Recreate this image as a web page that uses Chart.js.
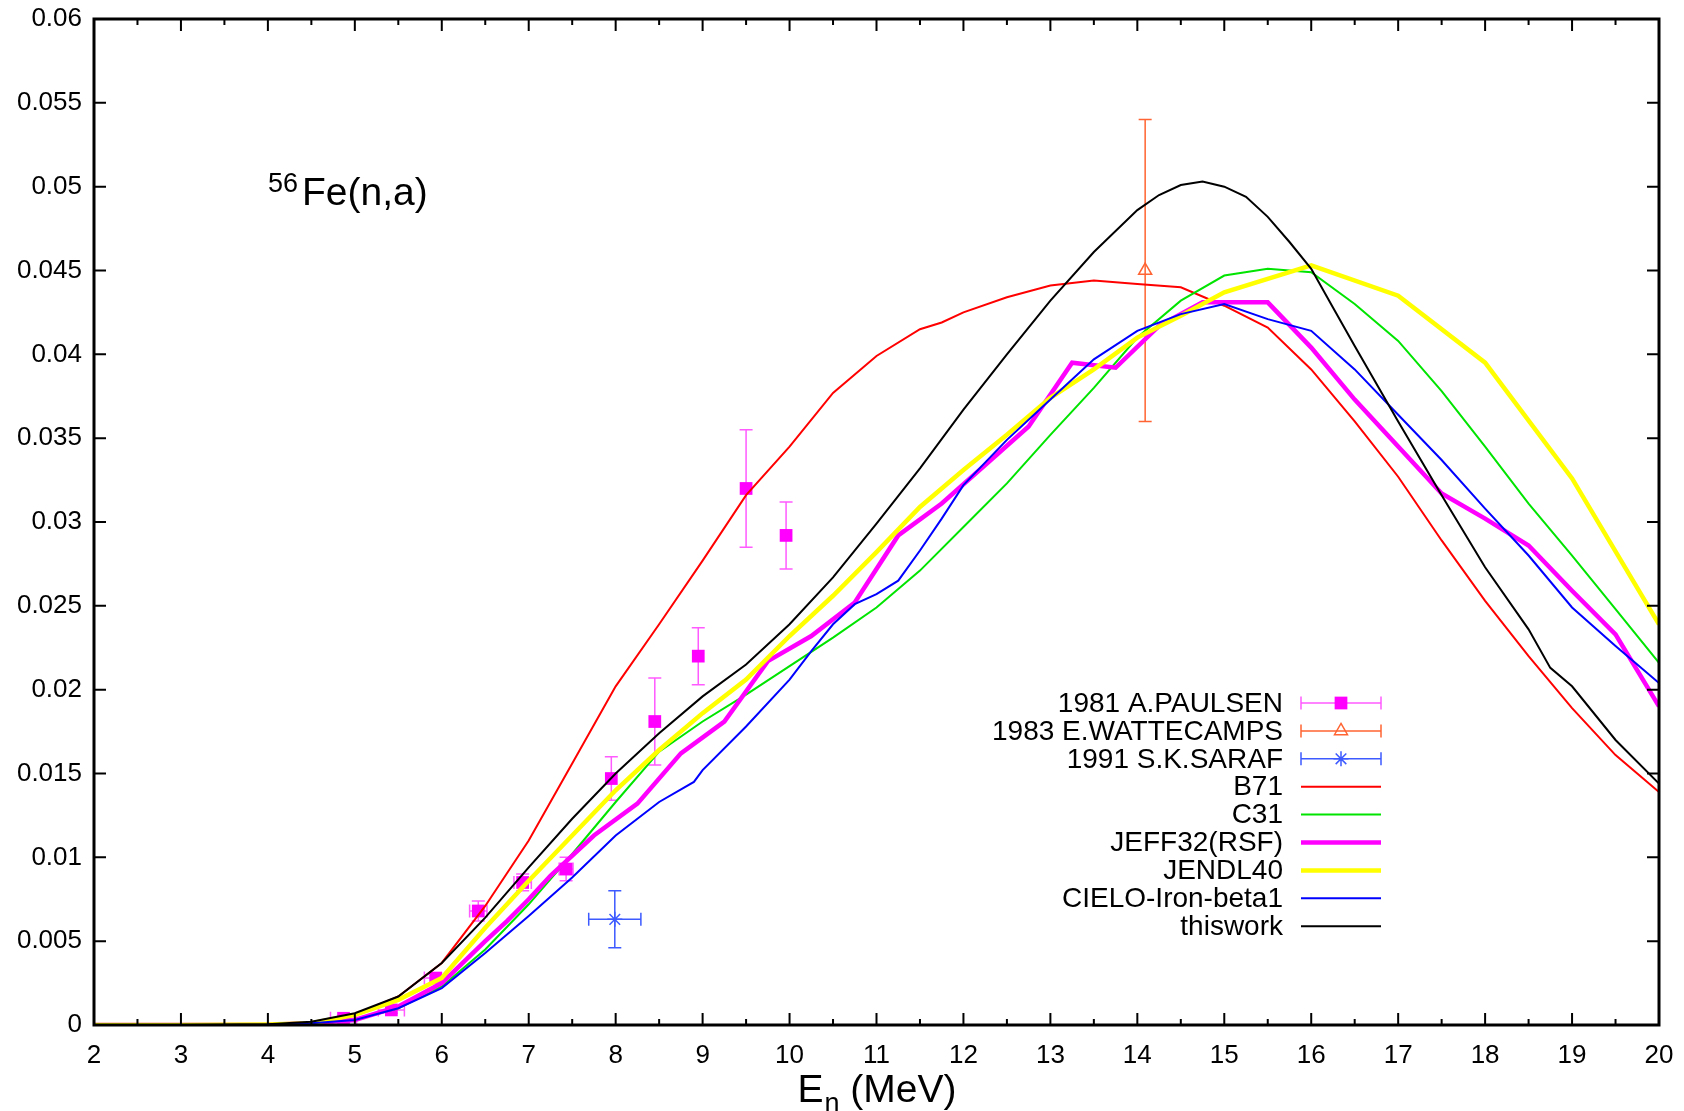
<!DOCTYPE html>
<html>
<head>
<meta charset="utf-8">
<title>56Fe(n,a)</title>
<script src="https://cdn.jsdelivr.net/npm/chart.js@4.4.0/dist/chart.umd.min.js"></script>
<style>
    html, body { margin: 0; padding: 0; background: #fff; }
    #wrap { width: 1684px; height: 1111px; }
</style>
</head>
<body>
<div id="wrap"><canvas id="xsChart" width="1684" height="1111"></canvas></div>
<script>
// Axis tick labels
const xTickLabels = ['2','3','4','5','6','7','8','9','10','11','12','13','14','15','16','17','18','19','20'];
const yTickLabels = ['0','0.005','0.01','0.015','0.02','0.025','0.03','0.035','0.04','0.045','0.05','0.055','0.06'];

// Measured points: energy (MeV), cross section (b), errors
const paulsenE  = [4.87, 5.42, 5.93, 6.42, 6.93, 7.43, 7.95, 8.45, 8.95, 9.5, 9.96];
const paulsenXS = [0.0004, 0.0009, 0.0028, 0.0068, 0.0085, 0.0093, 0.0147, 0.0181, 0.0220, 0.0320, 0.0292];
const paulsenDY = [0.0001, 0.0002, 0.0003, 0.0006, 0.0005, 0.0007, 0.0013, 0.0026, 0.0017, 0.0035, 0.0020];
const paulsenDX = [0.15, 0.15, 0.13, 0.1, 0.1, 0.08, 0, 0, 0, 0, 0];

const wattecampsE  = [14.09];
const wattecampsXS = [0.045];
const wattecampsDY = [0.009];
const wattecampsDX = [0];

const sarafE  = [7.99];
const sarafXS = [0.0063];
const sarafDY = [0.0017];
const sarafDX = [0.3];

// Evaluated / calculated curves
const b71E  = [2, 3, 4, 4.5, 5, 5.5, 6, 6.5, 7, 7.5, 8, 8.5, 9, 9.5, 10, 10.5, 11, 11.5, 11.75, 12, 12.5, 13, 13.5, 14, 14.5, 15, 15.5, 16, 16.5, 17, 17.5, 18, 18.5, 19, 19.5, 20];
const b71XS = [0, 0, 0.00002, 0.0001, 0.0006, 0.0017, 0.0037, 0.0071, 0.0110, 0.0156, 0.0202, 0.0239, 0.0277, 0.0316, 0.0345, 0.0377, 0.0399, 0.0415, 0.0419, 0.0425, 0.0434, 0.0441, 0.0444, 0.0442, 0.0440, 0.0429, 0.0416, 0.0391, 0.0360, 0.0327, 0.0289, 0.0253, 0.0220, 0.0189, 0.0161, 0.0139];

const c31E  = [2, 3, 4, 4.5, 5, 5.5, 6, 6.5, 7, 7.5, 8, 8.5, 9, 9.5, 10, 10.5, 11, 11.5, 12, 12.5, 13, 13.5, 14, 14.5, 15, 15.5, 16, 16.5, 17, 17.5, 18, 18.5, 19, 19.5, 20];
const c31XS = [0, 0, 0.00002, 0.0001, 0.0003, 0.0010, 0.0023, 0.0045, 0.0072, 0.0102, 0.0133, 0.0163, 0.0181, 0.0197, 0.0214, 0.0231, 0.0249, 0.0271, 0.0297, 0.0323, 0.0352, 0.0380, 0.0410, 0.0432, 0.0447, 0.0451, 0.0449, 0.0430, 0.0408, 0.0378, 0.0345, 0.0311, 0.0280, 0.0248, 0.0216];

const jeffE  = [2, 3, 4, 4.5, 5, 5.5, 6, 6.5, 6.75, 7, 7.25, 7.75, 8.25, 8.75, 9.25, 9.75, 10.25, 10.75, 11.25, 11.75, 12.25, 12.75, 13.25, 13.75, 14.25, 14.75, 15.5, 16, 16.5, 17, 17.5, 18, 18.5, 19, 19.5, 20];
const jeffXS = [0, 0, 0.00002, 0.0001, 0.0003, 0.0011, 0.0025, 0.0050, 0.0062, 0.0075, 0.0089, 0.0113, 0.0132, 0.0162, 0.0181, 0.0217, 0.0232, 0.0252, 0.0292, 0.0311, 0.0334, 0.0357, 0.0395, 0.0392, 0.0417, 0.0431, 0.0431, 0.0404, 0.0373, 0.0345, 0.0317, 0.0302, 0.0286, 0.0259, 0.0233, 0.0190];

const jendlE  = [2, 3, 4, 4.5, 5, 5.5, 6, 6.5, 7, 7.5, 8, 8.5, 9, 9.5, 10, 10.5, 11, 11.5, 12, 12.5, 13, 13.5, 14, 14.5, 15, 16, 17, 18, 19, 20];
const jendlXS = [0, 0, 0.00003, 0.0001, 0.0006, 0.0015, 0.0028, 0.0058, 0.0086, 0.0113, 0.0140, 0.0164, 0.0186, 0.0206, 0.0232, 0.0256, 0.0282, 0.0309, 0.0331, 0.0352, 0.0374, 0.0391, 0.0410, 0.0423, 0.0437, 0.0453, 0.0435, 0.0395, 0.0326, 0.0239];

const cieloE  = [2, 3, 4, 4.5, 5, 5.5, 6, 6.5, 7, 7.5, 8, 8.5, 8.9, 9, 9.5, 10, 10.25, 10.5, 10.75, 11, 11.25, 11.5, 11.75, 12, 12.5, 13, 13.5, 14, 14.5, 15, 15.5, 16, 16.5, 17, 17.5, 18, 18.5, 19, 19.5, 20];
const cieloXS = [0, 0, 0.00002, 0.0001, 0.0003, 0.0010, 0.0022, 0.0043, 0.0065, 0.0088, 0.0113, 0.0133, 0.0145, 0.0152, 0.0178, 0.0206, 0.0223, 0.0239, 0.0251, 0.0257, 0.0265, 0.0283, 0.0302, 0.0322, 0.0349, 0.0373, 0.0397, 0.0414, 0.0424, 0.0430, 0.0421, 0.0414, 0.0391, 0.0364, 0.0337, 0.0308, 0.0280, 0.0249, 0.0226, 0.0204];

const thisE  = [2, 3, 4, 4.5, 5, 5.5, 6, 6.5, 7, 7.5, 8, 8.5, 9, 9.5, 10, 10.5, 11, 11.5, 12, 12.5, 13, 13.5, 14, 14.25, 14.5, 14.75, 15, 15.25, 15.5, 15.75, 16, 16.25, 16.5, 17, 17.5, 18, 18.5, 18.75, 19, 19.5, 20];
const thisXS = [0, 0, 0.00005, 0.0002, 0.0007, 0.0017, 0.0037, 0.0064, 0.0094, 0.0123, 0.0150, 0.0174, 0.0196, 0.0215, 0.0239, 0.0267, 0.0299, 0.0332, 0.0367, 0.0400, 0.0432, 0.0461, 0.0486, 0.0495, 0.0501, 0.0503, 0.0500, 0.0494, 0.0482, 0.0467, 0.0451, 0.0428, 0.0405, 0.0360, 0.0316, 0.0273, 0.0236, 0.0213, 0.0202, 0.0170, 0.0144];

const FONT = '"Liberation Sans", Arial, Helvetica, sans-serif';

function toXY(xs, ys) {
    return xs.map((x, i) => ({ x: x, y: ys[i] }));
}

function curve(label, xs, ys, color, width, order) {
    return {
        label: label,
        data: toXY(xs, ys),
        showLine: true,
        borderColor: color,
        backgroundColor: color,
        borderWidth: width,
        pointRadius: 0,
        order: order
    };
}

const datasets = [
    {
        label: '1981 A.PAULSEN',
        data: toXY(paulsenE, paulsenXS),
        errY: paulsenDY, errX: paulsenDX, errColor: 'rgb(255,90,255)',
        pointStyle: 'rect', pointRadius: 9, borderWidth: 0,
        backgroundColor: '#ff00ff', borderColor: '#ff00ff',
        order: 10
    },
    {
        label: '1983 E.WATTECAMPS',
        data: toXY(wattecampsE, wattecampsXS),
        errY: wattecampsDY, errX: wattecampsDX, errColor: 'rgb(255,100,50)',
        pointStyle: 'triangle', pointRadius: 7.5, borderWidth: 1.5,
        backgroundColor: 'rgba(0,0,0,0)', borderColor: 'rgb(255,100,50)',
        order: 9
    },
    {
        label: '1991 S.K.SARAF',
        data: toXY(sarafE, sarafXS),
        errY: sarafDY, errX: sarafDX, errColor: 'rgb(60,90,255)',
        pointStyle: 'star', pointRadius: 7.5, borderWidth: 1.5,
        backgroundColor: 'rgb(60,90,255)', borderColor: 'rgb(60,90,255)',
        order: 8
    },
    curve('B71', b71E, b71XS, '#ff0000', 2, 6),
    curve('C31', c31E, c31XS, '#00e400', 2, 5),
    curve('JEFF32(RSF)', jeffE, jeffXS, '#ff00ff', 4.5, 4),
    curve('JENDL40', jendlE, jendlXS, '#ffff00', 4.5, 3),
    curve('CIELO-Iron-beta1', cieloE, cieloXS, '#0000ff', 2, 2),
    curve('thiswork', thisE, thisXS, '#000000', 2, 1)
];

// Error bars drawn through the chart scales, under the markers and lines
const errorBars = {
    id: 'errorBars',
    beforeDatasetsDraw(chart) {
        const { ctx, chartArea: a, scales: { x, y } } = chart;
        ctx.save();
        ctx.beginPath();
        ctx.rect(a.left, a.top, a.width, a.height);
        ctx.clip();
        chart.data.datasets.forEach(ds => {
            if (!ds.errY) return;
            ctx.strokeStyle = ds.errColor;
            ctx.lineWidth = 1.5;
            ctx.beginPath();
            ds.data.forEach((p, i) => {
                const px = x.getPixelForValue(p.x);
                const py = y.getPixelForValue(p.y);
                const dy = ds.errY[i], dx = ds.errX[i];
                if (dy) {
                    const y0 = y.getPixelForValue(p.y - dy);
                    const y1 = y.getPixelForValue(p.y + dy);
                    ctx.moveTo(px, y0); ctx.lineTo(px, y1);
                    ctx.moveTo(px - 6.5, y0); ctx.lineTo(px + 6.5, y0);
                    ctx.moveTo(px - 6.5, y1); ctx.lineTo(px + 6.5, y1);
                }
                if (dx) {
                    const x0 = x.getPixelForValue(p.x - dx);
                    const x1 = x.getPixelForValue(p.x + dx);
                    ctx.moveTo(x0, py); ctx.lineTo(x1, py);
                    ctx.moveTo(x0, py - 6.5); ctx.lineTo(x0, py + 6.5);
                    ctx.moveTo(x1, py - 6.5); ctx.lineTo(x1, py + 6.5);
                }
            });
            ctx.stroke();
        });
        ctx.restore();
    }
};

// Border box with inward ticks on all four sides
const frameTicks = {
    id: 'frameTicks',
    afterDatasetsDraw(chart) {
        const { ctx, chartArea: a, scales: { x, y } } = chart;
        ctx.save();
        ctx.strokeStyle = '#000';
        ctx.lineWidth = 2;
        ctx.beginPath();
        x.ticks.forEach(t => {
            const px = x.getPixelForValue(t.value);
            ctx.moveTo(px, a.bottom); ctx.lineTo(px, a.bottom - 12);
            ctx.moveTo(px, a.top); ctx.lineTo(px, a.top + 12);
            if (t.value < x.max) {
                const pm = x.getPixelForValue(t.value + 0.5);
                ctx.moveTo(pm, a.bottom); ctx.lineTo(pm, a.bottom - 6);
                ctx.moveTo(pm, a.top); ctx.lineTo(pm, a.top + 6);
            }
        });
        y.ticks.forEach(t => {
            const py = y.getPixelForValue(t.value);
            ctx.moveTo(a.left, py); ctx.lineTo(a.left + 12, py);
            ctx.moveTo(a.right, py); ctx.lineTo(a.right - 12, py);
        });
        ctx.stroke();
        ctx.lineWidth = 3;
        ctx.strokeRect(a.left, a.top, a.right - a.left, a.bottom - a.top);
        ctx.restore();
    }
};

// Reaction label and x axis title with sub/superscripts
const annotations = {
    id: 'annotations',
    afterDraw(chart) {
        const { ctx, chartArea: a } = chart;
        ctx.save();
        ctx.fillStyle = '#000';
        ctx.textBaseline = 'alphabetic';
        ctx.textAlign = 'left';

        ctx.font = '27px ' + FONT;
        ctx.fillText('56', 268, 192);
        const w56 = ctx.measureText('56').width;
        ctx.font = '39px ' + FONT;
        ctx.fillText('Fe(n,a)', 268 + w56 + 4, 205);

        const big = '39px ' + FONT, small = '27px ' + FONT;
        ctx.font = big;
        const wE = ctx.measureText('E').width;
        const wRest = ctx.measureText(' (MeV)').width;
        ctx.font = small;
        const wn = ctx.measureText('n').width;
        const sx = (a.left + a.right) / 2 - (wE + wn + wRest) / 2;
        const base = 1102;
        ctx.font = big;
        ctx.fillText('E', sx, base);
        ctx.font = small;
        ctx.fillText('n', sx + wE + 1, base + 10);
        ctx.font = big;
        ctx.fillText(' (MeV)', sx + wE + wn + 1, base);
        ctx.restore();
    }
};

// Key in the lower right of the plot: text right aligned, sample on the right
const keyBox = {
    id: 'keyBox',
    afterDraw(chart) {
        const { ctx } = chart;
        const textRight = 1283, x0 = 1301, x1 = 1381, top = 703, rowH = 27.9;
        ctx.save();
        ctx.font = '28px ' + FONT;
        ctx.textAlign = 'right';
        ctx.textBaseline = 'middle';
        chart.data.datasets.forEach((ds, i) => {
            const cy = top + i * rowH;
            ctx.fillStyle = '#000';
            ctx.fillText(ds.label, textRight, cy + 1);
            if (ds.errY) {
                ctx.strokeStyle = ds.errColor;
                ctx.lineWidth = 1.5;
                ctx.beginPath();
                ctx.moveTo(x0, cy); ctx.lineTo(x1, cy);
                ctx.moveTo(x0, cy - 6.5); ctx.lineTo(x0, cy + 6.5);
                ctx.moveTo(x1, cy - 6.5); ctx.lineTo(x1, cy + 6.5);
                ctx.stroke();
                ctx.fillStyle = ds.backgroundColor;
                ctx.strokeStyle = ds.borderColor;
                ctx.lineWidth = ds.borderWidth;
                Chart.helpers.drawPoint(ctx, {
                    pointStyle: ds.pointStyle,
                    radius: ds.pointRadius,
                    rotation: 0,
                    borderWidth: ds.borderWidth
                }, (x0 + x1) / 2, cy);
            } else {
                ctx.strokeStyle = ds.borderColor;
                ctx.lineWidth = ds.borderWidth;
                ctx.beginPath();
                ctx.moveTo(x0, cy); ctx.lineTo(x1, cy);
                ctx.stroke();
            }
        });
        ctx.restore();
    }
};

const chart = new Chart(document.getElementById('xsChart'), {
    type: 'scatter',
    data: { datasets: datasets },
    options: {
        responsive: false,
        animation: false,
        devicePixelRatio: 1,
        layout: { padding: { top: 19, right: 25, left: 0, bottom: 0 } },
        plugins: {
            legend: { display: false },
            tooltip: { enabled: false }
        },
        scales: {
            x: {
                type: 'linear',
                position: 'bottom',
                min: 2,
                max: 20,
                grid: { display: false, drawTicks: false },
                border: { display: false },
                ticks: {
                    stepSize: 1,
                    autoSkip: false,
                    maxRotation: 0,
                    padding: 15,
                    color: '#000',
                    font: { family: FONT, size: 26 },
                    callback: value => xTickLabels[Math.round(value - 2)]
                },
                afterFit: scale => {
                    scale.height = 86;
                    scale.paddingLeft = 0;
                    scale.paddingRight = 0;
                }
            },
            y: {
                type: 'linear',
                position: 'left',
                min: 0,
                max: 0.06,
                grid: { display: false, drawTicks: false },
                border: { display: false },
                ticks: {
                    stepSize: 0.005,
                    autoSkip: false,
                    padding: 12,
                    color: '#000',
                    font: { family: FONT, size: 26 },
                    callback: value => yTickLabels[Math.round(value / 0.005)]
                },
                afterFit: scale => {
                    scale.width = 94;
                    scale.paddingTop = 0;
                    scale.paddingBottom = 0;
                }
            }
        }
    },
    plugins: [errorBars, frameTicks, annotations, keyBox]
});
</script>
</body>
</html>
